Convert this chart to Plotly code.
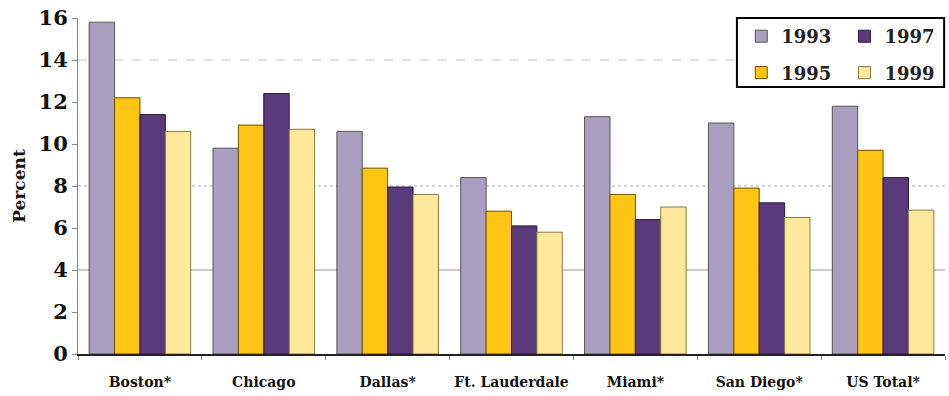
import plotly.graph_objects as go

categories = ["Boston*", "Chicago", "Dallas*", "Ft. Lauderdale", "Miami*", "San Diego*", "US Total*"]
years = ["1993", "1995", "1997", "1999"]
v1993 = [15.8, 9.8, 10.6, 8.4, 11.3, 11.0, 11.8]
v1995 = [12.2, 10.9, 8.85, 6.8, 7.6, 7.9, 9.7]
v1997 = [11.4, 12.4, 7.95, 6.1, 6.4, 7.2, 8.4]
v1999 = [10.6, 10.7, 7.6, 5.8, 7.0, 6.5, 6.85]
y_ticks = [0, 2, 4, 6, 8, 10, 12, 14, 16]

series = [v1993, v1995, v1997, v1999]
colors = ["#ab9fc0", "#ffc414", "#5a3a7a", "#fde89c"]
line_colors = ["#555555", "#6b5000", "#2a1840", "#8a7a40"]
legend_ids = ["legend", "legend", "legend2", "legend2"]

SERIF = "DejaVu Serif"

fig = go.Figure()
for yr, vals, c, lc, lg in zip(years, series, colors, line_colors, legend_ids):
    fig.add_trace(go.Bar(
        x=categories, y=vals, name=yr,
        marker=dict(color=c, line=dict(color=lc, width=1)),
        legend=lg, legendgroup=yr,
    ))

# partial gridlines as seen in the reference
for yv, dash, col in [(4, "solid", "#9a9a9a"), (8, "dot", "#a8a8d0"), (14, "dash", "#c8c8c8")]:
    fig.add_shape(type="line", xref="paper", yref="y", x0=0, x1=1, y0=yv, y1=yv,
                  line=dict(color=col, width=1, dash=dash), layer="below")

# legend frame
fig.add_shape(type="rect", xref="paper", yref="paper", x0=0.760, x1=0.999, y0=0.795, y1=1.0,
              line=dict(color="#000000", width=2), fillcolor="white", layer="below")

legend_common = dict(
    orientation="v", yanchor="top", xanchor="left",
    font=dict(family=SERIF, size=18, color="#222222", weight="bold"),
    bgcolor="rgba(0,0,0,0)", borderwidth=0, tracegroupgap=10, itemwidth=30,
)

fig.update_layout(
    width=949, height=396,
    margin=dict(l=78, r=4, t=18, b=42, autoexpand=False),
    paper_bgcolor="white", plot_bgcolor="white",
    barmode="group", bargap=0.18, bargroupgap=0.0,
    font=dict(family=SERIF, color="#111111"),
    legend=dict(x=0.765, y=1.0, **legend_common),
    legend2=dict(x=0.884, y=1.0, **legend_common),
    showlegend=True,
)
fig.update_xaxes(
    showline=True, linecolor="#222222", linewidth=2,
    ticks="outside", tickson="boundaries", ticklen=4, tickcolor="#888888",
    tickfont=dict(family=SERIF, size=14, weight="bold", color="#111111"),
    tickangle=0, automargin=False,
    ticklabelstandoff=14,
    showgrid=False,
)
fig.update_yaxes(
    range=[0, 16], tickvals=y_ticks,
    showline=True, linecolor="#888888", linewidth=1,
    ticks="outside", ticklen=5, tickcolor="#888888",
    tickfont=dict(family=SERIF, size=21, weight="bold", color="#111111"),
    showgrid=False, zeroline=False, automargin=False,
    title=dict(text="Percent", font=dict(family=SERIF, size=17, weight="bold"), standoff=8),
)
fig.write_html("out.html")
